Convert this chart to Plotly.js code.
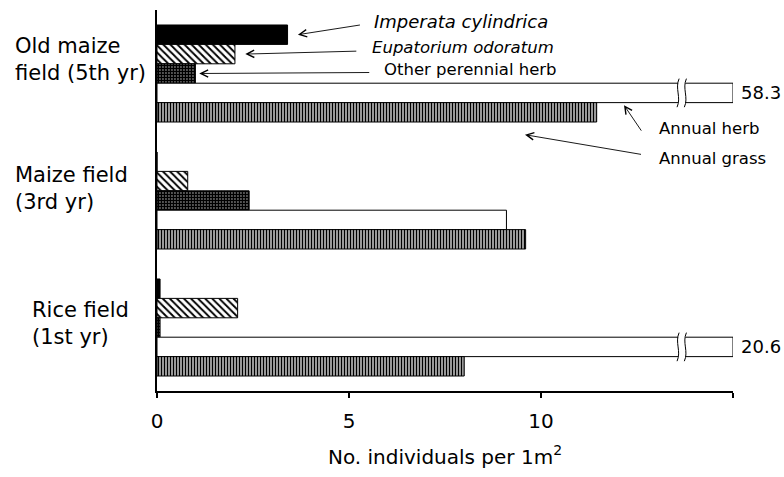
<!DOCTYPE html>
<html><head><meta charset="utf-8">
<script src="https://cdn.plot.ly/plotly-3.0.1.min.js"></script>
<style>html,body{margin:0;padding:0;background:#fff;}#chart{width:784px;height:477px;}</style>
</head><body><div id="chart"></div>
<script>
// ---- data ----
const categories = ['Old maize field (5th yr)', 'Maize field (3rd yr)', 'Rice field (1st yr)'];
const categoryLabels = ['Old maize<br>field (5th yr)', 'Maize field<br>(3rd yr)', 'Rice field<br>(1st yr)'];
const seriesNames = ['Imperata cylindrica', 'Eupatorium odoratum', 'Other perennial herb', 'Annual herb', 'Annual grass'];
const imperata = [3.4, 0, 0.08];
const eupatorium = [2.03, 0.8, 2.1];
const otherPerennial = [1.0, 2.4, 0.08];
const annualHerb = [58.3, 9.1, 20.6];
const annualGrass = [11.45, 9.6, 8.0];
const xTickVals = [0, 5, 10, 15];
const xTickText = ['0', '5', '10', ''];
const xMax = 15;

// ---- styling ----
const FONT = 'DejaVu Sans';
const BARGAP = 0.236;
const line = {color: '#000', width: 1};
const styles = [
  {color: '#000', line: line},
  {color: '#fff', line: line, pattern: {shape: '\\', fgcolor: '#000', bgcolor: '#fff', size: 5, solidity: 0.38}},
  {color: '#fff', line: line, pattern: {shape: '.', fgcolor: '#000', bgcolor: '#fff', size: 3, solidity: 0.8}},
  {color: '#fff', line: line},
  {color: '#fff', line: line, pattern: {shape: '|', fgcolor: '#000', bgcolor: '#fff', size: 3, solidity: 0.6}}
];
const seriesValues = [imperata, eupatorium, otherPerennial, annualHerb, annualGrass];

const traces = seriesValues.map((vals, k) => ({
  type: 'bar', orientation: 'h', name: seriesNames[k],
  y: categories, x: vals, marker: styles[k], hoverinfo: 'skip'
}));

const nS = seriesNames.length;
const slotW = (1 - BARGAP) / nS;
const slotTop = (i, k) => i - (1 - BARGAP) / 2 + k * slotW;
const slotMid = (i, k) => slotTop(i, k) + slotW / 2;
const toPaper = u => (2.5 - u) / 3;

const shapes = [];
const annotations = [];

// broken bars (values beyond axis end)
const herbK = 3;
annualHerb.forEach((v, i) => {
  if (v <= xMax) return;
  const t = slotTop(i, herbK), b = t + slotW;
  shapes.push({type: 'line', xref: 'x', yref: 'y', x0: xMax, x1: xMax, y0: t, y1: b, line: {color: '#000', width: 1}, layer: 'above'});
  const xl = 13.57, xr = 13.76, a = 0.09;
  const pt = toPaper(t) + 0.012, pb = toPaper(b) - 0.012, h = pt - pb;
  shapes.push({type: 'rect', xref: 'x', yref: 'paper', x0: xl, x1: xr, y0: pb + 0.006, y1: pt - 0.006, fillcolor: '#fff', line: {width: 0}, layer: 'above'});
  [xl, xr].forEach(x => {
    shapes.push({type: 'path', xref: 'x', yref: 'paper', layer: 'above',
      path: `M ${x + a * 0.3},${pt} C ${x - a},${pt - h * 0.35} ${x + a},${pt - h * 0.65} ${x - a * 0.3},${pb}`,
      line: {color: '#000', width: 1}});
  });
  annotations.push({xref: 'x', yref: 'y', x: xMax, y: slotMid(i, herbK), xanchor: 'left', xshift: 6,
    text: v.toFixed(1), showarrow: false, font: {family: FONT, size: 18, color: '#000'}});
});

// category labels (left aligned)
const labelX = [13, 13, 30];
const labelShift = [14, 12, 4];
categoryLabels.forEach((t, i) => {
  annotations.push({xref: 'paper', yref: 'y', x: (labelX[i] - 157) / 576, y: i, xanchor: 'left', yanchor: 'middle',
    align: 'left', yshift: labelShift[i], text: t, showarrow: false, font: {family: FONT, size: 21, color: '#000'}});
});

// species labels
const pxX = px => (px - 157) / 38.4;
const pxU = py => (py - 10) / 127 - 0.5;
const labelDefs = [
  {text: '<i>Imperata cylindrica</i>', x: 372, y: 21, size: 18},
  {text: '<i>Eupatorium odoratum</i>', x: 370, y: 47, size: 16.5},
  {text: 'Other perennial herb', x: 382, y: 69, size: 16.5},
  {text: 'Annual herb', x: 657, y: 128, size: 16.5},
  {text: 'Annual grass', x: 657, y: 158, size: 16.5}
];
labelDefs.forEach(d => annotations.push({xref: 'x', yref: 'y', x: pxX(d.x), y: pxU(d.y), xanchor: 'left', yanchor: 'middle',
  text: d.text, showarrow: false, font: {family: FONT, size: d.size, color: '#000'}}));

// arrows: tip in data coords, tail offset in px
const arrows = [
  {x: imperata[0] + 0.27, y: slotMid(0, 0), ax: 64, ay: -10},
  {x: eupatorium[0] + 0.27, y: slotMid(0, 1), ax: 113, ay: -3},
  {x: otherPerennial[0] + 0.1, y: slotMid(0, 2), ax: 172, ay: -1},
  {x: pxX(624), y: slotTop(0, 4) + 0.02, ax: 19, ay: 28},
  {x: pxX(525), y: slotTop(0, 4) + slotW + 0.1, ax: 118, ay: 20}
];
arrows.forEach(a => annotations.push({xref: 'x', yref: 'y', x: a.x, y: a.y, ax: a.ax, ay: a.ay, text: ' ',
  showarrow: true, arrowhead: 5, arrowsize: 1.6, arrowwidth: 0.9, arrowcolor: '#000', standoff: 0, startstandoff: 0,
  font: {size: 2}}));

const layout = {
  width: 784, height: 477,
  margin: {l: 157, r: 51, t: 10, b: 86, pad: 0},
  paper_bgcolor: '#fff', plot_bgcolor: '#fff',
  barmode: 'group', bargap: BARGAP, bargroupgap: 0,
  showlegend: false,
  font: {family: FONT, color: '#000'},
  xaxis: {range: [0, xMax], tickvals: xTickVals, ticktext: xTickText, ticks: 'outside', ticklen: 5, tickwidth: 1.5,
    tickcolor: '#000', showline: true, linecolor: '#000', linewidth: 1.5, showgrid: false, zeroline: false,
    ticklabelstandoff: 6,
    tickfont: {family: FONT, size: 20, color: '#000'},
    title: {text: 'No. individuals per 1m<sup>2</sup>', font: {family: FONT, size: 20, color: '#000'}, standoff: 18}},
  yaxis: {type: 'category', categoryorder: 'array', categoryarray: categories, range: [2.5, -0.5],
    showticklabels: false, ticks: '', showline: true, linecolor: '#000', linewidth: 2.5, showgrid: false, zeroline: false},
  shapes: shapes, annotations: annotations
};

Plotly.newPlot('chart', traces, layout, {displayModeBar: false, staticPlot: true});
</script></body></html>
